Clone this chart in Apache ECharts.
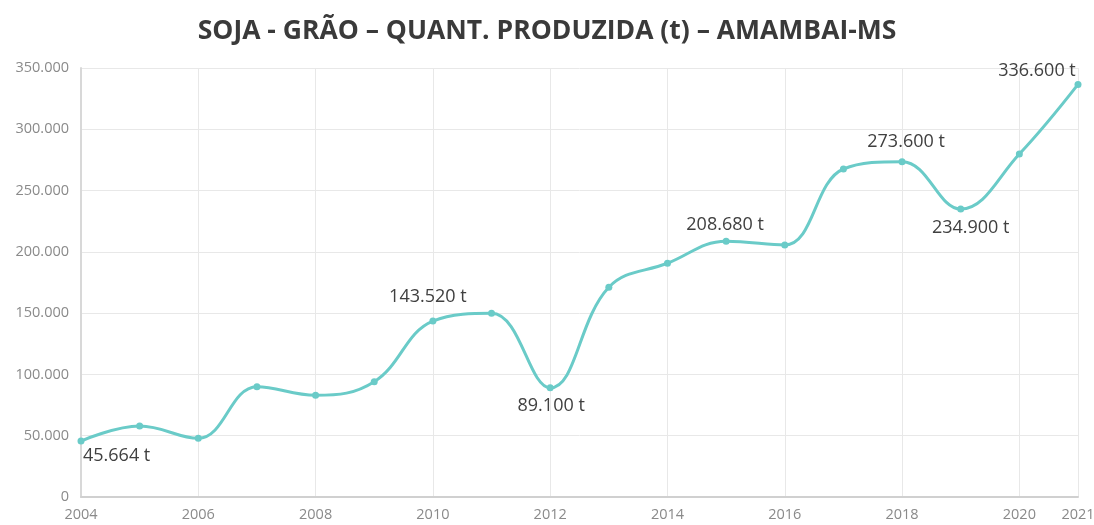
<!DOCTYPE html>
<html>
<head>
<meta charset="utf-8">
<script src="https://cdn.jsdelivr.net/npm/echarts@6/dist/echarts.min.js"></script>
<style>html,body{margin:0;padding:0;background:#fff}#c{width:1094px;height:525px}</style>
</head>
<body>
<div id="c"></div>
<script>
var years = [2004,2005,2006,2007,2008,2009,2010,2011,2012,2013,2014,2015,2016,2017,2018,2019,2020,2021];
var production = [45664,57900,47900,90000,83000,94100,143520,149900,89100,171100,190700,208680,205600,267600,273600,234900,279800,336600];
var labeledYears = {2004:'bl',2010:'t',2012:'b',2015:'t',2018:'t',2019:'b',2021:'tl'};
var titleText = 'SOJA - GRÃO – QUANT. PRODUZIDA (t) – AMAMBAI-MS';

function fmt(v){ return String(v).replace(/\B(?=(\d{3})+(?!\d))/g,'.'); }

var labelCfg = {
  bl: {show:true, position:'bottom', align:'left', offset:[2,0], distance:2},
  t:  {show:true, position:'top', distance:12},
  b:  {show:true, position:'bottom', distance:6},
  tl: {show:true, position:'top', offset:[-41,0], distance:1}
};
var offs = {2010:[-5,0],2018:[4,0],2019:[10,0],2015:[-1,0],2012:[1,0]};
var dists = {2015:4, 2018:7};

var data = years.map(function(y,i){
  var item = {value:[y, production[i]]};
  var k = labeledYears[y];
  if(k){
    var l = Object.assign({}, labelCfg[k]);
    if(offs[y]) l.offset = offs[y];
    if(dists[y] !== undefined) l.distance = dists[y];
    l.formatter = function(p){ return fmt(p.value[1]) + ' t'; };
    item.label = l;
  }
  return item;
});

var chart = echarts.init(document.getElementById('c'));
chart.setOption({
  animation:false,
  title:{text:titleText, left:'center', top:13,
    textStyle:{fontFamily:'Open Sans', fontWeight:'bold', fontSize:26.5, color:'#3a3a3a'}},
  grid:{left:81, right:16, top:68, bottom:28, containLabel:false, outerBoundsMode:'none'},
  xAxis:{type:'value', min:2004, max:2021, interval:2,
    axisLine:{show:true, lineStyle:{color:'#d0d0d0', width:2}},
    axisTick:{show:false},
    splitLine:{show:true, lineStyle:{color:'#e8e8e8'}},
    axisLabel:{color:'#8a8a8a', fontFamily:'Open Sans', fontSize:14.5, margin:10, formatter:function(v){return String(v);}}
  },
  yAxis:{type:'value', min:0, max:350000, interval:50000,
    axisLine:{show:true, lineStyle:{color:'#d8d8d8', width:2}},
    axisTick:{show:false},
    splitLine:{show:true, lineStyle:{color:'#e8e8e8'}},
    axisLabel:{color:'#8a8a8a', fontFamily:'Open Sans', fontSize:14.5, margin:12, formatter:function(v){return fmt(v);}}
  },
  series:[{
    type:'line', smooth:0.4, data:data,
    symbol:'circle', symbolSize:7,
    lineStyle:{color:'#6acbc8', width:3},
    itemStyle:{color:'#6acbc8'},
    label:{show:false, color:'#404040', fontFamily:'Open Sans', fontSize:18},
    z:3
  }]
});
</script>
</body>
</html>
